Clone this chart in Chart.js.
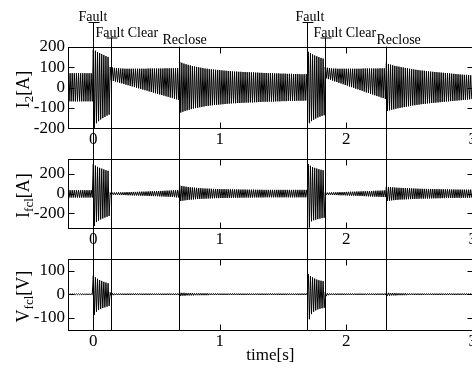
<!DOCTYPE html>
<html>
<head>
<meta charset="utf-8">
<script src="https://cdn.jsdelivr.net/npm/chart.js@4.4.1/dist/chart.umd.min.js"></script>
<style>
  html, body { margin: 0; padding: 0; background: #fff; }
  #wrap { position: relative; width: 472px; height: 367px; overflow: hidden; }
  canvas { position: absolute; left: 0; }
</style>
</head>
<body>
<div id="wrap">
  <canvas id="i2Chart" width="492" height="146" style="top:0"></canvas>
  <canvas id="ifclChart" width="492" height="100" style="top:146px"></canvas>
  <canvas id="vfclChart" width="492" height="121" style="top:246px"></canvas>
</div>
<script>
// one peak and one trough per 60 Hz cycle, starting at t = -0.2 s
const startTime = -0.2;
const lineFreq = 60;

const eventTimes = [0, 0.137, 0.68, 1.686, 1.83, 2.314];
const eventNames = ['Fault', 'Fault Clear', 'Reclose', 'Fault', 'Fault Clear', 'Reclose'];

const xTicks = [0, 0.5, 1, 1.5, 2, 2.5, 3];
const i2Ticks = [-200, -150, -100, -50, 0, 50, 100, 150, 200];
const ifclTicks = [-300, -200, -100, 0, 100, 200, 300];
const vfclTicks = [-150, -100, -50, 0, 50, 100, 150];

// I2 [A]
const i2Peaks = [
  70,70,70,70,70,70,70,70,70,70,70,70,
  185,180,174,169,164,159,154,150,
  100,98,96,95,94,93,93,92,92,92, 92,92,92,92,92,92,92,92,93,93, 93,93,93,93,93,93,94,94,94,94, 94,94,94,
  125,121,117,114,111,108,105,103,101,99, 97,95,93,92,90,89,88,87,86,85, 84,83,82,81,80,79,78,78,77,77,
  76,76,75,75,74,74,73,73,72,72, 71,71,70,70,70,69,69,69,68,68, 68,67,67,67,66,66,66,65,65,65,65,
  175,168,162,157,153,149,145,142,
  100,97,95,94,93,93,92,92,92,92, 92,92,92,92,92,92,92,92,93,93, 93,93,93,93,93,93,94,94,94,
  118,115,112,109,106,104,102,100,98,96, 94,92,90,89,87,86,84,83,82,80, 79,78,77,76,75,74,73,72,71,70,
  69,68,67,66,65,64,63,62,62,61, 60
];
const i2Troughs = [
  -68,-68,-68,-68,-68,-68,-68,-68,-68,-68,-68,-68,
  -198,-175,-165,-157,-150,-144,-138,-133,
  35,32,29,26,23,20,17,14,11,8, 5,2,-1,-4,-7,-10,-13,-16,-19,-22, -25,-28,-31,-34,-37,-40,-43,-46,-49,-52, -55,-58,-61,
  -123,-119,-115,-112,-109,-106,-103,-101,-99,-97, -95,-93,-91,-90,-88,-87,-86,-85,-84,-83, -82,-81,-80,-79,-78,-77,-77,-76,-76,-75,
  -75,-74,-74,-73,-73,-72,-72,-71,-71,-70, -70,-70,-69,-69,-69,-68,-68,-68,-67,-67, -67,-66,-66,-66,-66,-65,-65,-65,-65,-64,-64,
  -175,-165,-158,-152,-147,-143,-139,-136,
  45,41,38,34,30,27,23,20,16,12, 9,5,2,-2,-6,-9,-13,-16,-20,-24, -27,-31,-34,-38,-42,-45,-49,-52,-56,
  -115,-112,-109,-107,-104,-102,-100,-98,-96,-94, -92,-90,-88,-87,-85,-84,-82,-81,-80,-78, -77,-76,-75,-74,-73,-72,-71,-70,-69,-68,
  -67,-66,-65,-64,-63,-62,-61,-60,-59,-58, -57
];

// Ifcl [A]
const ifclPeaks = [
  35,35,35,35,35,35,35,35,35,35,35,35,
  300,285,272,262,254,246,238,232,
  10,10,11,11,12,13,13,14,15,15, 16,17,17,18,19,20,20,21,22,23, 24,24,25,26,27,28,29,30,31,32, 33,34,35,
  82,78,74,70,67,64,62,60,58,56, 55,53,52,51,50,49,48,47,46,46, 45,45,44,44,43,43,42,42,42,41,
  41,41,40,40,40,40,39,39,39,39, 38,38,38,38,38,38,38,38,38,38, 38,38,38,38,38,38,38,38,38,38,38,
  300,283,270,262,255,248,242,238,
  10,10,11,12,12,13,14,15,15,16, 17,18,19,19,20,21,22,23,24,24, 25,26,27,28,29,30,30,31,32,
  70,68,66,64,62,60,59,58,57,56, 55,54,53,52,51,50,49,49,48,48, 47,47,46,46,45,45,44,44,43,43,
  42,42,42,41,41,41,40,40,40,40, 40
];
const ifclTroughs = [
  -40,-40,-40,-40,-40,-40,-40,-40,-40,-40,-40,-40,
  -330,-290,-275,-263,-253,-244,-236,-228,
  -12,-12,-13,-13,-14,-15,-15,-16,-17,-17, -18,-19,-19,-20,-21,-22,-22,-23,-24,-25, -26,-26,-27,-28,-29,-30,-31,-32,-33,-34, -36,-38,-40,
  -75,-72,-69,-66,-63,-61,-59,-57,-55,-54, -53,-52,-51,-50,-49,-48,-47,-46,-46,-45, -45,-44,-44,-43,-43,-42,-42,-42,-41,-41,
  -41,-40,-40,-40,-40,-39,-39,-39,-39,-39, -38,-38,-38,-38,-38,-38,-38,-38,-38,-38, -38,-38,-38,-38,-38,-38,-38,-38,-38,-38,-38,
  -345,-282,-272,-265,-260,-255,-250,-246,
  -12,-12,-13,-14,-14,-15,-16,-17,-17,-18, -19,-20,-21,-21,-22,-23,-24,-25,-26,-27, -28,-29,-30,-31,-32,-33,-34,-35,-36,
  -74,-72,-69,-67,-65,-63,-61,-60,-59,-58, -57,-56,-55,-54,-53,-52,-51,-51,-50,-50, -49,-49,-48,-48,-47,-47,-46,-46,-45,-45,
  -44,-44,-44,-43,-43,-43,-42,-42,-42,-42, -42
];

// Vfcl [V]
const vfclPeaks = [
  2,2,2,2,2,2,2,2,2,2,2,2,
  80,72,66,61,57,53,50,47,
  8,4,3,3,3,3,3,3,3,3, 3,3,3,3,3,3,3,3,3,3, 3,3,3,3,3,3,3,3,3,3, 3,3,3,
  7,6,6,5,5,5,5,4,4,4, 4,4,4,4,3,3,3,3,3,3, 3,3,3,3,3,3,3,3,3,3,
  3,3,3,3,3,3,3,3,3,3, 3,3,3,3,3,3,3,3,3,3, 3,3,3,3,3,3,3,3,3,3,3,
  87,78,72,67,63,60,58,56,
  8,4,3,3,3,3,3,3,3,3, 3,3,3,3,3,3,3,3,3,3, 3,3,3,3,3,3,3,3,3,
  6,6,5,5,5,4,4,4,4,4, 3,3,3,3,3,3,3,3,3,3, 3,3,3,3,3,3,3,3,3,3,
  3,3,3,3,3,3,3,3,3,3, 3
];
const vfclTroughs = [
  -2,-2,-2,-2,-2,-2,-2,-2,-2,-2,-2,-2,
  -88,-75,-68,-63,-59,-56,-53,-50,
  -8,-4,-3,-3,-3,-3,-3,-3,-3,-3, -3,-3,-3,-3,-3,-3,-3,-3,-3,-3, -3,-3,-3,-3,-3,-3,-3,-3,-3,-3, -3,-3,-3,
  -7,-6,-6,-5,-5,-5,-5,-4,-4,-4, -4,-4,-4,-4,-3,-3,-3,-3,-3,-3, -3,-3,-3,-3,-3,-3,-3,-3,-3,-3,
  -3,-3,-3,-3,-3,-3,-3,-3,-3,-3, -3,-3,-3,-3,-3,-3,-3,-3,-3,-3, -3,-3,-3,-3,-3,-3,-3,-3,-3,-3,-3,
  -107,-85,-75,-69,-65,-62,-60,-58,
  -8,-4,-3,-3,-3,-3,-3,-3,-3,-3, -3,-3,-3,-3,-3,-3,-3,-3,-3,-3, -3,-3,-3,-3,-3,-3,-3,-3,-3,
  -6,-6,-5,-5,-5,-4,-4,-4,-4,-4, -3,-3,-3,-3,-3,-3,-3,-3,-3,-3, -3,-3,-3,-3,-3,-3,-3,-3,-3,-3,
  -3,-3,-3,-3,-3,-3,-3,-3,-3,-3, -3
];

const serif = '"Liberation Serif", "Times New Roman", serif';
// label placement for the event markers (pixels)
const eventLabelDx = [-15, -16, -17, -12, -12, -10];
const eventLabelStyle = {
  'Fault': { baseline: 21, cap: 22 },
  'Fault Clear': { baseline: 36.5, cap: 37.5 },
  'Reclose': { baseline: 43.5, cap: null }
};

function waveform(peaks, troughs) {
  const points = [];
  peaks.forEach((p, i) => {
    const t = startTime + i / lineFreq;
    points.push({ x: t, y: p });
    points.push({ x: t + 0.5 / lineFreq, y: troughs[i] });
  });
  return points;
}

const framePlugin = {
  id: 'frame',
  afterDraw(chart) {
    const { ctx, chartArea: a, scales: { x, y } } = chart;
    const l = Math.round(a.left) + 0.5, r = Math.round(a.right) + 0.5;
    const t = Math.round(a.top) + 0.5, b = Math.round(a.bottom) + 0.5;
    ctx.save();
    ctx.strokeStyle = '#000';
    ctx.lineWidth = 1;
    ctx.strokeRect(l, t, r - l, b - t);
    ctx.beginPath();
    x.ticks.forEach(tk => {
      const px = Math.round(x.getPixelForValue(tk.value)) + 0.5;
      ctx.moveTo(px, b); ctx.lineTo(px, b - 6);
      ctx.moveTo(px, t); ctx.lineTo(px, t + 6);
    });
    y.ticks.forEach(tk => {
      const py = Math.round(y.getPixelForValue(tk.value)) + 0.5;
      const len = tk.label == null ? 3 : 6;
      ctx.moveTo(l, py); ctx.lineTo(l + len, py);
      ctx.moveTo(r, py); ctx.lineTo(r - len, py);
    });
    ctx.stroke();
    ctx.restore();
  }
};

const eventPlugin = {
  id: 'eventMarks',
  afterDatasetsDraw(chart, args, opts) {
    const { ctx, chartArea: a, scales: { x } } = chart;
    ctx.save();
    ctx.strokeStyle = '#000';
    ctx.fillStyle = '#000';
    ctx.lineWidth = 1;
    ctx.font = '14px ' + serif;
    ctx.textAlign = 'left';
    ctx.textBaseline = 'alphabetic';
    eventTimes.forEach((time, i) => {
      const px = Math.round(x.getPixelForValue(time)) + 0.5;
      let y0 = 0;
      let y1 = chart.height;
      if (opts.part === 'top') {
        const s = eventLabelStyle[eventNames[i]];
        ctx.fillText(eventNames[i], px + eventLabelDx[i], s.baseline);
        if (s.cap) {
          y0 = s.cap;
          ctx.beginPath();
          ctx.moveTo(px - 5, s.cap + 0.5);
          ctx.lineTo(px + 6, s.cap + 0.5);
          ctx.stroke();
        } else {
          y0 = a.top;
        }
      }
      if (opts.part === 'bottom') y1 = a.bottom;
      ctx.beginPath();
      ctx.moveTo(px, y0);
      ctx.lineTo(px, y1);
      ctx.stroke();
    });
    ctx.restore();
  }
};

const yTitlePlugin = {
  id: 'yTitle',
  afterDraw(chart, args, opts) {
    const { ctx, chartArea: a } = chart;
    const big = '18px ' + serif;
    const small = '13px ' + serif;
    ctx.save();
    let total = 0;
    opts.parts.forEach(([text, sub]) => {
      ctx.font = sub ? small : big;
      total += ctx.measureText(text).width;
    });
    ctx.translate(29, (a.top + a.bottom) / 2 + 2);
    ctx.rotate(-Math.PI / 2);
    ctx.fillStyle = '#000';
    ctx.textBaseline = 'alphabetic';
    let pos = -total / 2;
    opts.parts.forEach(([text, sub]) => {
      ctx.font = sub ? small : big;
      ctx.fillText(text, pos, sub ? 4 : 0);
      pos += ctx.measureText(text).width;
    });
    ctx.restore();
  }
};

function makePanel(id, cfg) {
  const tickFont = { family: serif, size: 17 };
  return new Chart(document.getElementById(id), {
    type: 'line',
    data: {
      datasets: [{
        data: waveform(cfg.peaks, cfg.troughs),
        borderColor: '#000',
        borderWidth: 1,
        pointRadius: 0,
        tension: 0,
        fill: false
      }]
    },
    options: {
      responsive: false,
      animation: false,
      events: [],
      layout: { padding: { top: cfg.padTop, right: 19.2, bottom: cfg.padBottom, left: 0 } },
      plugins: {
        legend: { display: false },
        tooltip: { enabled: false },
        eventMarks: { part: cfg.part },
        yTitle: { parts: cfg.title }
      },
      scales: {
        x: {
          type: 'linear',
          min: -0.2,
          max: 3.0,
          afterBuildTicks: s => { s.ticks = xTicks.map(v => ({ value: v })); },
          afterFit: s => { s.height = cfg.xHeight; },
          ticks: {
            autoSkip: false,
            maxRotation: 0,
            padding: 1,
            color: '#000',
            font: tickFont,
            callback: v => Number.isInteger(v) ? String(v) : null
          },
          grid: { display: false, drawTicks: false },
          border: { display: false },
          title: {
            display: !!cfg.xTitle,
            text: cfg.xTitle || '',
            color: '#000',
            font: { family: serif, size: 17 },
            padding: 0
          }
        },
        y: {
          min: cfg.min,
          max: cfg.max,
          afterBuildTicks: s => { s.ticks = cfg.ticks.map(v => ({ value: v })); },
          afterFit: s => { s.width = 68; },
          ticks: {
            autoSkip: false,
            padding: 3,
            color: '#000',
            font: tickFont,
            callback: v => v % cfg.labelStep === 0 ? String(v) : null
          },
          grid: { display: false, drawTicks: false },
          border: { display: false }
        }
      }
    },
    plugins: [framePlugin, eventPlugin, yTitlePlugin]
  });
}

makePanel('i2Chart', {
  peaks: i2Peaks, troughs: i2Troughs, ticks: i2Ticks, labelStep: 100,
  min: -200, max: 200, padTop: 46.7, padBottom: 0, xHeight: 17.7,
  part: 'top', title: [['I', false], ['2', true], ['[A]', false]]
});
makePanel('ifclChart', {
  peaks: ifclPeaks, troughs: ifclTroughs, ticks: ifclTicks, labelStep: 200,
  min: -350, max: 350, padTop: 2, padBottom: 0, xHeight: 18,
  part: 'middle', title: [['I', false], ['fcl', true], ['[A]', false]]
});
makePanel('vfclChart', {
  peaks: vfclPeaks, troughs: vfclTroughs, ticks: vfclTicks, labelStep: 100,
  min: -153, max: 150, padTop: 3.3, padBottom: 1.6, xHeight: 35.4,
  part: 'bottom', title: [['V', false], ['fcl', true], ['[V]', false]],
  xTitle: 'time[s]'
});
</script>
</body>
</html>
